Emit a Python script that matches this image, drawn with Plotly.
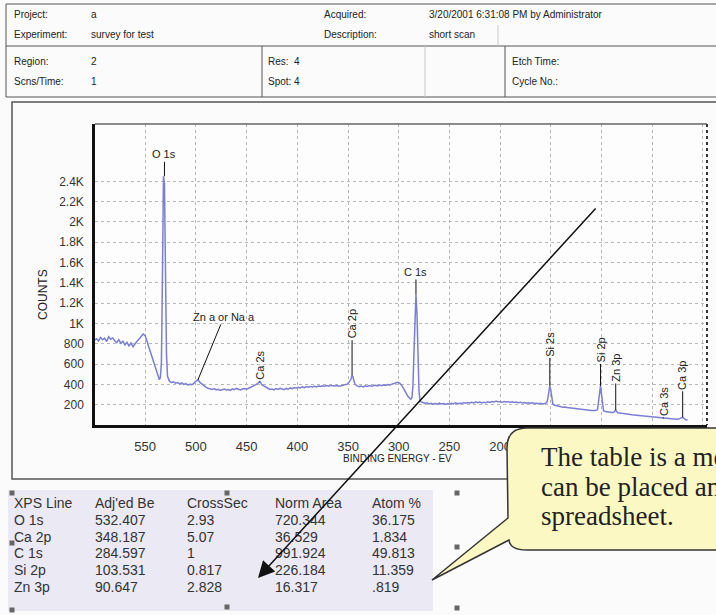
import plotly.graph_objects as go

# ---------------- data ----------------
energy = [600,598,596,594,592,590,588,586,584,582,580,578,576,574,572,570,568,566,564,562,560,558,556,554,552,550,
          548,546,544,542,540,538,537,536,535,534,533,532,531,530,529,528,527,526,524,522,520,518,516,514,512,510,
          508,506,504,502,500,498,496,494,492,490,488,486,484,482,480,478,476,474,472,470,468,466,464,462,460,458,
          456,454,452,450,448,446,444,442,440,438,437,436,435,433,431,429,427,425,423,421,419,417,415,413,411,409,
          407,405,403,401,399,397,395,393,391,389,387,385,383,381,379,377,375,373,371,369,367,365,363,361,359,357,
          355,353,351,349,347,346,345,344,343,341,339,337,335,333,331,329,327,325,323,321,319,317,315,313,311,309,
          307,305,303,301,299,297,295,293,291,289,288,287,286,285,284,283,282,281,280,279,278,276,274,272,270,268,
          266,264,262,260,258,256,254,252,250,248,246,244,242,240,238,236,234,232,230,228,226,224,222,220,218,216,
          214,212,210,208,206,204,202,200,198,196,194,192,190,188,186,184,182,180,178,176,174,172,170,168,166,164,
          162,160,158,156,154,153,152,151,150,149,148,146,144,142,140,138,136,134,132,130,128,126,124,122,120,118,
          116,114,112,110,108,106,104,103,102,101,100,99,98,96,94,92,90,88,87,86,85,84,82,80,78,76,74,72,70,68,66,
          64,62,60,58,56,54,52,50,48,46,44,42,40,38,36,34,32,30,28,26,24,22,21,20,19,18,17,16,15]
counts = [835,850,828,862,840,855,822,870,845,858,830,812,840,805,826,790,815,780,808,770,800,825,848,870,895,880,
          820,760,700,640,570,500,470,445,470,620,1450,2450,2380,1300,700,480,440,430,420,425,412,418,405,415,400,408,
          395,402,398,410,432,445,420,400,385,370,362,355,350,358,345,352,340,348,355,345,350,342,356,348,360,352,
          346,355,360,352,365,372,380,390,402,420,425,415,398,385,370,362,350,355,345,358,350,362,355,348,360,352,
          365,358,368,362,372,365,375,368,378,372,380,374,382,376,385,380,386,382,388,383,390,385,384,388,382,386,
          390,395,402,420,455,490,470,430,400,385,378,384,376,386,380,388,382,386,392,385,393,388,395,390,398,394,
          402,408,414,420,412,390,355,315,282,262,255,270,380,700,1150,1290,1100,600,330,245,228,222,212,218,208,214,
          205,212,206,215,208,212,204,210,206,214,208,218,210,215,212,220,214,222,216,224,218,228,220,226,218,225,
          220,228,222,232,226,235,228,230,225,232,226,230,224,228,222,226,220,225,218,222,215,220,214,218,212,215,
          210,214,208,212,220,260,330,385,340,250,205,195,188,184,180,176,178,172,170,166,168,162,160,156,158,152,
          150,148,146,142,140,142,150,220,330,385,300,190,140,132,128,126,122,125,135,148,132,120,118,114,112,108,106,104,100,98,96,
          94,90,88,86,84,80,78,76,74,70,68,66,64,62,62,60,58,58,56,56,58,64,72,76,68,58,52,50,48]

peak_names = ["O 1s", "Zn a or Na a", "Ca 2s", "Ca 2p", "C 1s", "Si 2s", "Si 2p", "Zn 3p", "Ca 3s", "Ca 3p"]
peak_energy = [531, 498, 437, 346, 283, 151, 101, 86, 39, 20]
peak_counts = [2450, 445, 425, 490, 1290, 385, 385, 148, 64, 76]

x_ticks = [550, 500, 450, 400, 350, 300, 250, 200, 150, 100, 50, 0]
x_tick_text = ["550", "500", "450", "400", "350", "300", "250", "200", "", "", "", ""]
y_ticks = [200, 400, 600, 800, 1000, 1200, 1400, 1600, 1800, 2000, 2200, 2400]
y_tick_text = ["200", "400", "600", "800", "1K", "1.2K", "1.4K", "1.6K", "1.8K", "2K", "2.2K", "2.4K"]

header_rows = [
    [("Project:", "a"), ("Acquired:", "3/20/2001 6:31:08 PM by Administrator")],
    [("Experiment:", "survey for test"), ("Description:", "short scan")],
]
header_rows2 = [
    [("Region:", "2"), ("Res:", "4"), ("Etch Time:", "")],
    [("Scns/Time:", "1"), ("Spot:", "4"), ("Cycle No.:", "")],
]

table_header = ["XPS Line", "Adj'ed Be", "CrossSec", "Norm Area", "Atom %"]
xps_line = ["O 1s", "Ca 2p", "C 1s", "Si 2p", "Zn 3p"]
adj_be = ["532.407", "348.187", "284.597", "103.531", "90.647"]
cross_sec = ["2.93", "5.07", "1", "0.817", "2.828"]
norm_area = ["720.344", "36.529", "991.924", "226.184", "16.317"]
atom_pct = ["36.175", "1.834", "49.813", "11.359", ".819"]

callout_lines = ["The table is a movable", "can be placed anywhere", "spreadsheet."]

# ---------------- layout helpers (pixel -> paper) ----------------
W, H = 716, 615
L, R, T, B = 95, 707, 124, 425
def px(x):
    return (x - L) / (R - L)
def py(y):
    return (B - y) / (B - T)

SANS = "Liberation Sans, Arial, sans-serif"
SERIF = "Liberation Serif, Times New Roman, serif"

fig = go.Figure()
fig.add_trace(go.Scatter(x=energy, y=counts, mode="lines",
                         line=dict(color="#7b7fd2", width=1.5), hoverinfo="skip"))

shapes = []
ann = []

def rect(x0, y0, x1, y1, color="#444", width=1, fill=None, layer="above"):
    d = dict(type="rect", xref="paper", yref="paper", x0=px(x0), x1=px(x1), y0=py(y0), y1=py(y1),
             line=dict(color=color, width=width), layer=layer)
    if fill:
        d["fillcolor"] = fill
    shapes.append(d)

def line(x0, y0, x1, y1, color="#444", width=1, dash="solid"):
    shapes.append(dict(type="line", xref="paper", yref="paper", x0=px(x0), x1=px(x1), y0=py(y0), y1=py(y1),
                       line=dict(color=color, width=width, dash=dash), layer="above"))

def text(x, y, s, size=10, color="#222", font=SANS, anchor="left", angle=0):
    ann.append(dict(xref="paper", yref="paper", x=px(x), y=py(y), text=s, showarrow=False,
                    xanchor=anchor, yanchor="middle", textangle=angle,
                    font=dict(family=font, size=size, color=color)))

# header box
rect(6, 4, 730, 97, color="#555", width=1)
line(6, 46, 730, 46, color="#555", width=1)
line(262, 46, 262, 97, color="#555", width=1)
line(425, 46, 425, 97, color="#c8c8c8", width=1)
line(505, 46, 505, 97, color="#555", width=1)
line(498, 25, 498, 46, color="#c8c8c8", width=1)
hy = [14, 34]
for r, row in enumerate(header_rows):
    (a, b), (c, d) = row
    text(12, hy[r], a); text(89, hy[r], b)
    text(322, hy[r], c); text(427, hy[r], d)
hy2 = [61, 81]
for r, row in enumerate(header_rows2):
    (a, b), (c, d), (e, f) = row
    text(12, hy2[r], a); text(89, hy2[r], b)
    text(266, hy2[r], c); text(292, hy2[r], d)
    text(510, hy2[r], e)

# chart panel border
rect(12, 102, 730, 479, color="#555", width=1.5, layer="below")

# plot frame: top grey line, right dotted line
line(L, T, R, T, color="#666", width=1.5)
line(R, T, R, B, color="#333", width=2, dash="dot")

# peak labels
for name, e, c in zip(peak_names, peak_energy, peak_counts):
    if name == "Zn a or Na a":
        ax, ay, ang = 26, -63, 0
    elif name in ("O 1s", "C 1s"):
        ax, ay, ang = 0, -22, 0
    elif name == "Ca 2p":
        ax, ay, ang = 0, -51, -90
    elif name in ("Ca 2s", "Ca 3s"):
        ax, ay, ang = 0, -17, -90
    elif name == "Si 2p":
        ax, ay, ang = 0, -36, -90
    else:
        ax, ay, ang = 0, -42, -90
    ann.append(dict(x=e, y=c, xref="x", yref="y", text=name, showarrow=True, arrowhead=0,
                    arrowwidth=1, arrowcolor="#111", ax=ax, ay=ay, textangle=ang,
                    font=dict(family=SANS, size=11, color="#222")))

# axis titles
text(43, 295, "COUNTS", size=12, color="#222", anchor="center", angle=-90)
text(397, 458, "BINDING ENERGY - EV", size=10, color="#222", anchor="center")

# table background and handles
rect(8, 490, 433, 611, color="rgba(0,0,0,0)", width=0, fill="#ebe9f3", layer="below")
col_x = [12, 93, 185, 273, 370]
row_y = [503, 520, 537, 553, 570, 587]
cols = [table_header] + [list(r) for r in zip(xps_line, adj_be, cross_sec, norm_area, atom_pct)]
for ri, row in enumerate(cols):
    for ci, val in enumerate(row):
        text(col_x[ci], row_y[ri], val, size=14, color="#333")
for hx, hyy in [(12, 493), (227, 493), (457, 493), (12, 543), (457, 547), (12, 610), (227, 607), (457, 608)]:
    rect(hx - 2.5, hyy - 2.5, hx + 2.5, hyy + 2.5, color="#666", width=0, fill="#666")

# callout bubble
def P(x, y):
    return f"{px(x):.5f},{py(y):.5f}"
path = ("M " + P(527, 428) + " L " + P(760, 428) + " L " + P(760, 550) + " L " + P(527, 550) +
        " Q " + P(510, 550) + " " + P(509, 540) + " L " + P(432, 580) + " L " + P(508, 518) +
        " L " + P(507, 448) + " Q " + P(507, 428) + " " + P(527, 428) + " Z")
shapes.append(dict(type="path", xref="paper", yref="paper", path=path, fillcolor="#fbf8c4",
                   line=dict(color="#333", width=1.5), layer="above"))
for ln, yy in zip(callout_lines, [457, 487, 516]):
    text(539, yy, ln, size=27, color="#222", font=SERIF)

# big arrow
ann.append(dict(xref="paper", yref="paper", x=px(258), y=py(578), text="", showarrow=True,
                axref="pixel", ayref="pixel", ax=339, ay=-371, arrowhead=2, arrowsize=2.2,
                arrowwidth=1.5, arrowcolor="#111"))

fig.update_layout(
    width=W, height=H,
    margin=dict(l=L, r=W - R, t=T, b=H - B, pad=0),
    paper_bgcolor="#fbfbfb", plot_bgcolor="#fdfdfd",
    showlegend=False,
    xaxis=dict(range=[599.5, -4], tickvals=x_ticks, ticktext=x_tick_text, ticks="", showline=True,
               linecolor="#111", linewidth=2.5,
               showgrid=True, gridcolor="#b8b8b8", griddash="dot", gridwidth=1, zeroline=False,
               tickfont=dict(family=SANS, size=13, color="#333"), ticklabelstandoff=8),
    yaxis=dict(range=[0, 2965], tickvals=y_ticks, ticktext=y_tick_text, ticks="", showline=True,
               linecolor="#111", linewidth=2.5, showgrid=True, gridcolor="#b8b8b8", griddash="dot",
               gridwidth=1, zeroline=False, tickfont=dict(family=SANS, size=12, color="#333"),
               ticklabelstandoff=6),
    shapes=shapes, annotations=ann,
)
fig.write_html("out.html", config={"displayModeBar": False},
               post_script="document.body.style.margin='0px';document.body.style.overflow='hidden';")
